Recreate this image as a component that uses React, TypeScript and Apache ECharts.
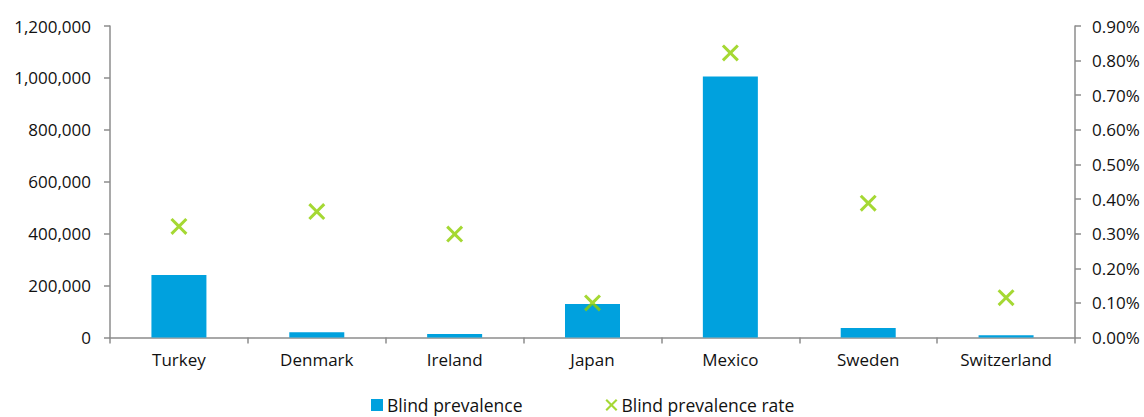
import React, { useEffect, useRef } from "react";
import * as echarts from "echarts";

const countries = ["Turkey", "Denmark", "Ireland", "Japan", "Mexico", "Sweden", "Switzerland"];
const blindPrevalence = [241000, 20000, 13500, 129000, 1005000, 37000, 9000];
// rate in percent
const blindPrevalenceRate = [0.321, 0.364, 0.299, 0.1, 0.822, 0.388, 0.115];

const FONT = "'Open Sans', 'Noto Sans', sans-serif";
const TEXT = "#111111";
const AXIS = "#8c8c8c";
const BLUE = "#00a1de";
const GREEN = "#8fce00";

// thick X marker as a filled outline
const CROSS =
  "path://M0,1.5L1.5,0L6,4.5L10.5,0L12,1.5L7.5,6L12,10.5L10.5,12L6,7.5L1.5,12L0,10.5L4.5,6Z";

export default function App() {
  const ref = useRef<HTMLDivElement>(null);

  useEffect(() => {
    if (!ref.current) return;
    const chart = echarts.init(ref.current, null, { renderer: "svg" });
    chart.setOption({
      animation: false,
      backgroundColor: "#ffffff",
      textStyle: { fontFamily: FONT },
      grid: { left: 110, right: 69, top: 26, bottom: 79.5, containLabel: false },
      legend: {
        left: 371,
        top: 396,
        padding: 0,
        itemGap: 83,
        itemWidth: 12,
        itemHeight: 12,
        textStyle: { fontFamily: FONT, fontSize: 17.5, color: TEXT, padding: [0, 0, 0, -1] },
        data: [
          { name: "Blind prevalence", icon: "rect" },
          { name: "Blind prevalence rate", icon: CROSS, itemStyle: { color: GREEN } },
        ],
      },
      xAxis: {
        type: "category",
        data: countries,
        boundaryGap: true,
        axisLine: { lineStyle: { color: AXIS, width: 1.5 } },
        axisTick: { show: true, length: 6, lineStyle: { color: AXIS, width: 1.5 } },
        axisLabel: { fontFamily: FONT, fontSize: 17, color: TEXT, margin: 13 },
      },
      yAxis: [
        {
          type: "value",
          min: 0,
          max: 1200000,
          interval: 200000,
          splitLine: { show: false },
          axisLine: { show: true, lineStyle: { color: AXIS, width: 1.5 } },
          axisTick: { show: true, length: 6, lineStyle: { color: AXIS, width: 1.5 } },
          axisLabel: {
            fontFamily: FONT,
            fontSize: 17,
            color: TEXT,
            margin: 19,
            formatter: (v: number) => v.toLocaleString("en-US"),
          },
        },
        {
          type: "value",
          position: "right",
          min: 0,
          max: 0.9,
          interval: 0.1,
          splitLine: { show: false },
          axisLine: { show: true, lineStyle: { color: AXIS, width: 1.5 } },
          axisTick: { show: true, length: 6, lineStyle: { color: AXIS, width: 1.5 } },
          axisLabel: {
            fontFamily: FONT,
            fontSize: 17,
            color: TEXT,
            margin: 17,
            formatter: (v: number) => v.toFixed(2) + "%",
          },
        },
      ],
      series: [
        {
          name: "Blind prevalence",
          type: "bar",
          yAxisIndex: 0,
          barWidth: 55,
          data: blindPrevalence,
          itemStyle: { color: BLUE },
        },
        {
          name: "Blind prevalence rate",
          type: "scatter",
          yAxisIndex: 1,
          symbol: CROSS,
          symbolSize: 17,
          data: blindPrevalenceRate,
          itemStyle: { color: GREEN },
        },
      ],
    });
    return () => chart.dispose();
  }, []);

  return (
    <div
      ref={ref}
      style={{ position: "fixed", left: 0, top: 0, width: 1144, height: 417 }}
    />
  );
}
